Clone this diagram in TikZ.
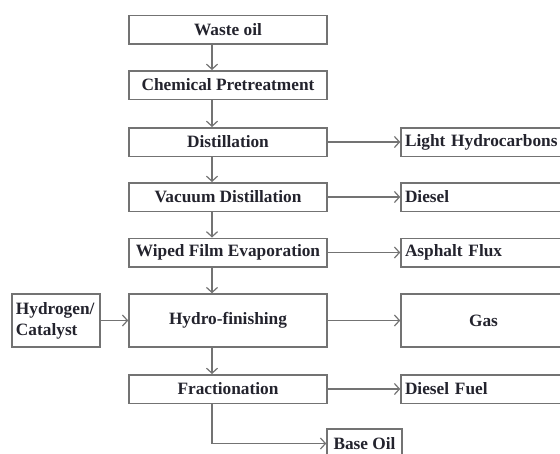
\documentclass[tikz,border=0pt]{standalone}
\usepackage{fontspec}
\setmainfont{Liberation Serif}
\usetikzlibrary{arrows.meta}
\definecolor{linec}{gray}{0.45}
\definecolor{txtc}{RGB}{35,35,45}
\tikzset{
  box/.style={draw=linec, line width=1.5pt, inner sep=0pt, text=txtc,
    font=\bfseries\fontsize{17.3}{21}\selectfont},
  midbox/.style={box, minimum width=198pt, minimum height=28.5pt},
  sidebox/.style={box, minimum width=165pt, minimum height=28.5pt,
    text width=157pt, align=left},
  arr/.style={draw=linec, line width=1.3pt, -{Straight Barb[length=5pt,width=11pt,line width=1.2pt]}}
}
\begin{document}
\begin{tikzpicture}[x=1pt,y=-1pt]
\path[use as bounding box, clip] (0,0) rectangle (560,453);
% main column
\node[midbox] (waste) at (228,29.5) {Waste oil};
\node[midbox] (chem)  at (228,85) {Chemical Pretreatment};
\node[midbox] (dist)  at (228,142) {Distillation};
\node[midbox] (vac)   at (228,197) {Vacuum Distillation};
\node[midbox] (wfe)   at (228,252.5) {Wiped Film Evaporation};
\node[midbox, minimum height=53pt] (hf) at (228,320.5) {Hydro-finishing};
\node[midbox] (frac)  at (228,389) {Fractionation};
% side products
\node[sidebox] (lh)   at (483.5,142) {Light Hydrocarbons};
\node[sidebox] (dsl)  at (483.5,197) {Diesel};
\node[sidebox] (asp)  at (483.5,252.5) {Asphalt Flux};
\node[box, minimum width=165pt, minimum height=53pt] (gas) at (483.5,320.5) {Gas};
\node[sidebox] (dfuel) at (483.5,389) {Diesel Fuel};
\node[box, minimum width=75pt, minimum height=29pt] (base) at (364.5,443.5) {Base Oil};
\node[box, minimum width=88pt, minimum height=53pt, text width=80pt, align=left] (h2) at (56,320.5) {Hydrogen/\\Catalyst};
% vertical flow
\coordinate (ax) at (212,0);
\draw[arr] (waste.south -| ax) -- (chem.north -| ax);
\draw[arr] (chem.south -| ax) -- (dist.north -| ax);
\draw[arr] (dist.south -| ax) -- (vac.north -| ax);
\draw[arr] (vac.south -| ax) -- (wfe.north -| ax);
\draw[arr] (wfe.south -| ax) -- (hf.north -| ax);
\draw[arr] (hf.south -| ax) -- (frac.north -| ax);
\draw[arr] (frac.south -| ax) |- (base.west);
% horizontal outputs
\draw[arr] (dist.east) -- (lh.west);
\draw[arr] (vac.east) -- (dsl.west);
\draw[arr] (wfe.east) -- (asp.west);
\draw[arr] (hf.east) -- (gas.west);
\draw[arr] (frac.east) -- (dfuel.west);
\draw[arr] (h2.east) -- (hf.west);
\end{tikzpicture}
\end{document}
